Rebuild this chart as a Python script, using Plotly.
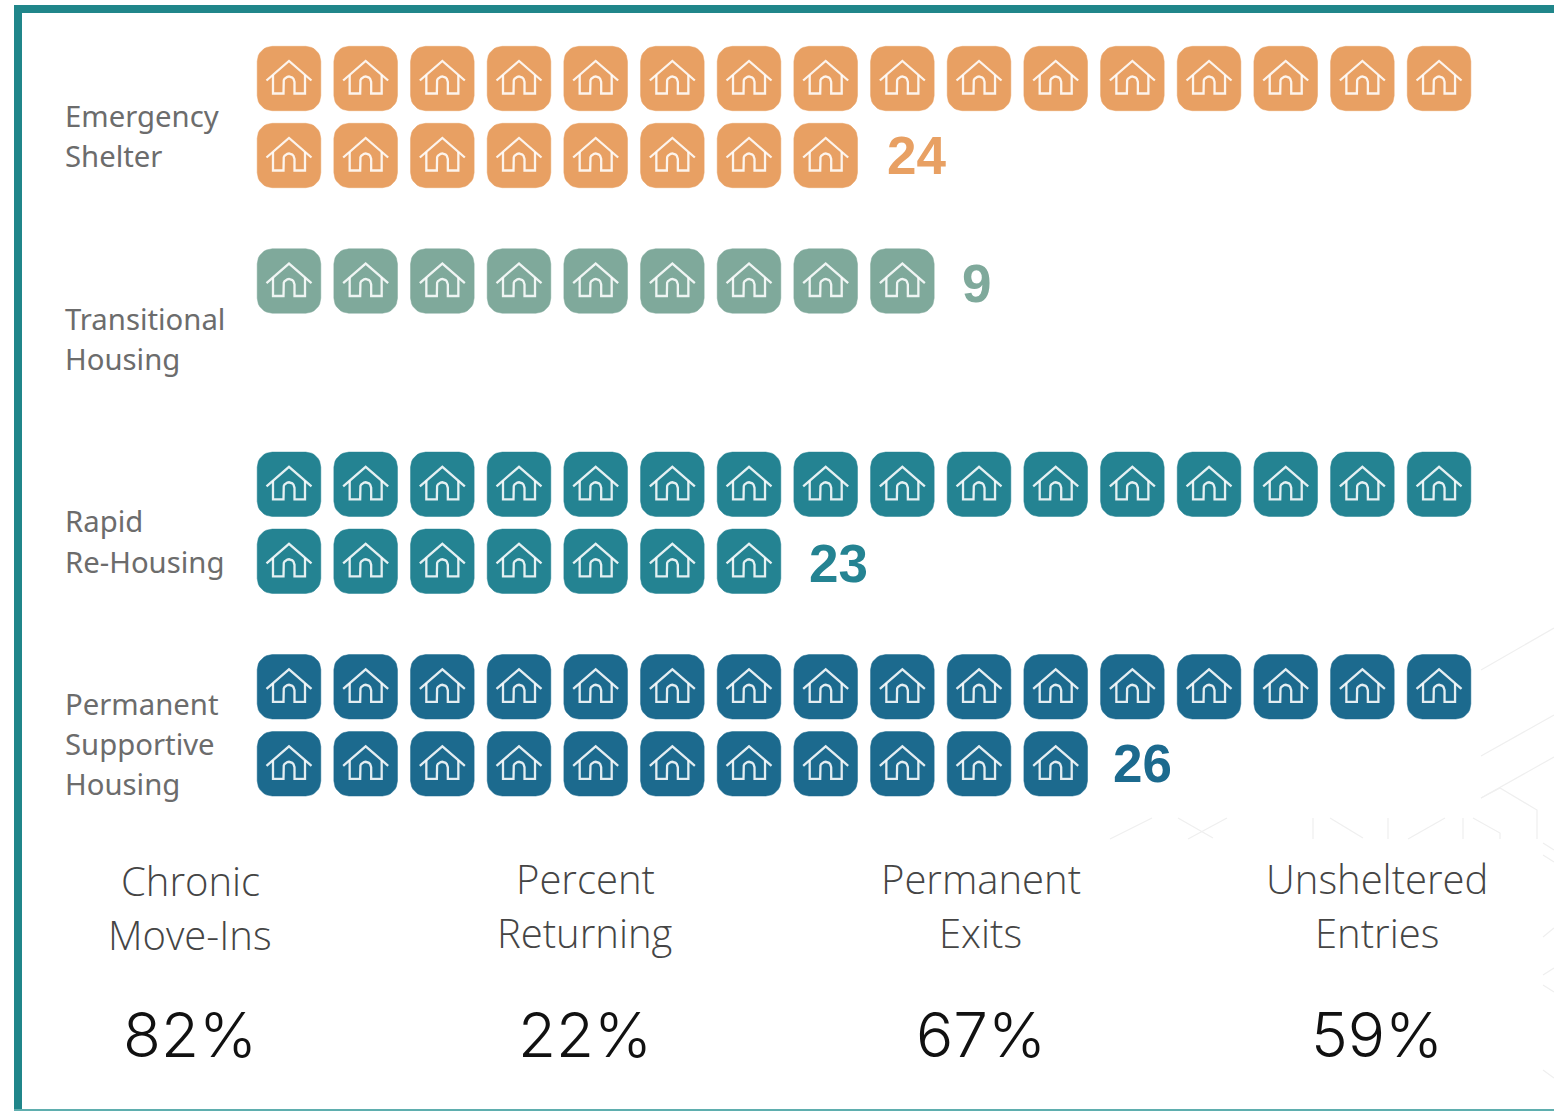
import math
import plotly.graph_objects as go

# ---- data ----
categories = [["Emergency", "Shelter"], ["Transitional", "Housing"], ["Rapid", "Re-Housing"],
              ["Permanent", "Supportive", "Housing"]]
icon_counts = [24, 9, 23, 27]   # houses drawn in the picture
count_labels = [24, 9, 23, 26]  # numbers printed beside them
colors = ["#E8A063", "#7FA99B", "#248392", "#1C6A8E"]
kpi_titles = [["Chronic", "Move-Ins"], ["Percent", "Returning"], ["Permanent", "Exits"], ["Unsheltered", "Entries"]]
kpi_values = ["82%", "22%", "67%", "59%"]

# ---- layout constants (pixels of the 1554x1111 canvas) ----
W, H = 1554, 1111
PER_ROW = 16
COL0_PX, COL_PITCH = 289.0, 76.67
ROW0_PX, ROW_PITCH = 78.5, 77.0
block_first_row = [0.0, 2.63, 5.27, 7.9]
label_line_px = [[116, 156], [318.5, 359], [521, 562], [704, 744, 784]]
count_label_x_px = [886, 961, 808, 1112]
count_label_y_px = [156, 283, 563, 763]
kpi_center_px = [190, 585, 981, 1377]
kpi_title_px = [[880, 934], [878, 932], [878, 932], [878, 932]]
KPI_VALUE_PX = 1034


def rounded_square(half_w, half_h, r, n=8):
    pts = []
    corners = [(half_w - r, -half_h + r, -90), (half_w - r, half_h - r, 0),
               (-half_w + r, half_h - r, 90), (-half_w + r, -half_h + r, 180)]
    for cx, cy, start in corners:
        for k in range(n + 1):
            a = math.radians(start + 90 * k / n)
            pts.append((cx + r * math.cos(a), cy + r * math.sin(a)))
    pts.append(pts[0])
    return pts


def house_outline():
    roof = [(-22.5, 2.0), (0.0, -17.5), (22.5, 2.0)]
    body = [(-16.0, -3.5), (-16.0, 15.0), (-5.5, 15.0), (-5.5, 3.5)]
    for k in range(1, 10):
        a = math.radians(180 + 180 * k / 10)
        body.append((5.5 * math.cos(a), 3.5 + 5.5 * math.sin(a)))
    body += [(5.5, 3.5), (5.5, 15.0), (16.0, 15.0), (16.0, -3.5)]
    return [roof, body]


TILE = rounded_square(31.8, 32.2, 15.0)
HOUSE = house_outline()

fig = go.Figure()

for name, count, color, first in zip(categories, icon_counts, colors, block_first_row):
    tx, ty, hx, hy = [], [], [], []
    for i in range(count):
        col = i % PER_ROW
        row = first + i // PER_ROW
        for dx, dy in TILE:
            tx.append(col + dx / COL_PITCH)
            ty.append(row + dy / ROW_PITCH)
        tx.append(None)
        ty.append(None)
        for part in HOUSE:
            for dx, dy in part:
                hx.append(col + dx / COL_PITCH)
                hy.append(row + dy / ROW_PITCH)
            hx.append(None)
            hy.append(None)
    label = " ".join(name)
    fig.add_trace(go.Scatter(x=tx, y=ty, mode="lines", fill="toself", fillcolor=color,
                             line=dict(color=color, width=0.5), name=label, hoverinfo="skip"))
    fig.add_trace(go.Scatter(x=hx, y=hy, mode="lines", line=dict(color="rgba(255,255,255,0.88)", width=2.3),
                             name=label + " icons", hoverinfo="skip"))


def text(x_px, y_px, s, size, color, family, anchor="center", weight=None):
    fig.add_annotation(x=x_px / W, y=1 - y_px / H, xref="paper", yref="paper", text=s, showarrow=False,
                       xanchor=anchor, yanchor="middle", borderpad=0,
                       font=dict(size=size, color=color, family=family, weight=weight))


for lines, ys in zip(categories, label_line_px):
    for s, y in zip(lines, ys):
        text(64, y, s, 29.3, "#6C6C6C", "Noto Sans", "left")

for lab, color, x, y in zip(count_labels, colors, count_label_x_px, count_label_y_px):
    text(x, y, str(lab), 53, color, "Liberation Sans", "left", 700)

for cx, titles, ys, val in zip(kpi_center_px, kpi_titles, kpi_title_px, kpi_values):
    for s, y in zip(titles, ys):
        text(cx, y, s, 40, "#454545", "Open Sans", "center", 300)
    text(cx, KPI_VALUE_PX, val, 62, "#111111", "Inter", "center", 300)

# frame and faint background pattern
shapes = []


def rect(x0, y0, x1, y1, color):
    shapes.append(dict(type="rect", xref="paper", yref="paper", x0=x0 / W, x1=x1 / W, y0=1 - y0 / H, y1=1 - y1 / H,
                       fillcolor=color, line=dict(width=0), layer="above"))


def faint(points):
    path = "M" + " L".join(f"{x / W:.5f},{1 - y / H:.5f}" for x, y in points)
    shapes.append(dict(type="path", xref="paper", yref="paper", path=path,
                       line=dict(color="#EFEFEF", width=1.2), layer="below"))


rect(14, 5, W, 13, "#20868A")
rect(14, 5, 22, H, "#20868A")
rect(14, 1109, W, H, "#5FAEAE")

for pts in [
    [(1481, 670), (1554, 628)], [(1481, 756), (1554, 715)], [(1481, 798), (1554, 757)],
    [(1481, 798), (1500, 788), (1537, 810), (1537, 839)],
    [(1110, 839), (1152, 818)], [(1188, 839), (1227, 818)], [(1178, 818), (1213, 838)],
    [(1313, 818), (1313, 839)], [(1330, 818), (1363, 838)], [(1388, 818), (1388, 839)],
    [(1408, 839), (1445, 818)], [(1463, 818), (1463, 839)], [(1473, 818), (1500, 833), (1500, 839)],
    [(1543, 843), (1554, 850)], [(1543, 855), (1554, 862)], [(1543, 937), (1554, 928)],
    [(1543, 975), (1554, 968)], [(1543, 985), (1554, 992)], [(1543, 1070), (1554, 1078)],
]:
    faint(pts)

fig.update_layout(
    width=W, height=H, margin=dict(l=0, r=0, t=0, b=0), showlegend=False,
    paper_bgcolor="white", plot_bgcolor="rgba(0,0,0,0)", shapes=shapes,
    xaxis=dict(range=[-COL0_PX / COL_PITCH, (W - COL0_PX) / COL_PITCH], visible=False, fixedrange=True),
    yaxis=dict(range=[(H - ROW0_PX) / ROW_PITCH, -ROW0_PX / ROW_PITCH], visible=False, fixedrange=True),
)

fig.write_html("out.html", post_script="document.body.style.margin='0';window.dispatchEvent(new Event('resize'));",
               config=dict(displayModeBar=False))
